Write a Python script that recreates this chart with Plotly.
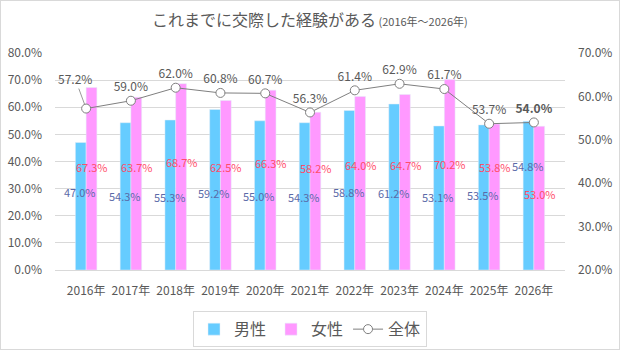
import plotly.graph_objects as go

years = ["2016年", "2017年", "2018年", "2019年", "2020年", "2021年",
         "2022年", "2023年", "2024年", "2025年", "2026年"]
male = [47.0, 54.3, 55.3, 59.2, 55.0, 54.3, 58.8, 61.2, 53.1, 53.5, 54.8]
female = [67.3, 63.7, 68.7, 62.5, 66.3, 58.2, 64.0, 64.7, 70.2, 53.8, 53.0]
total = [57.2, 59.0, 62.0, 60.8, 60.7, 56.3, 61.4, 62.9, 61.7, 53.7, 54.0]

# label placement (left-axis % units) – styling, not data
male_label_at = [28.8, 27.3, 26.9, 28.4, 27.3, 26.9, 28.8, 28.4, 26.9, 27.6, 38.3]
female_label_at = [38.0, 38.0, 39.8, 38.0, 39.4, 37.6, 38.7, 38.7, 39.1, 38.0, 28.0]

BLUE = "#66CCFF"
PINK = "#FF99FF"
MALE_TXT = "#5A6AA8"
FEMALE_TXT = "#FF4D6A"
GRAY = "#595959"
FONT = "Noto Sans CJK JP"

fig = go.Figure()
fig.add_trace(go.Bar(x=years, y=[v / 100 for v in male], name="男性",
                     marker=dict(color=BLUE), offsetgroup="m"))
fig.add_trace(go.Bar(x=years, y=[v / 100 for v in female], name="女性",
                     marker=dict(color=PINK), offsetgroup="f"))

line_text = [""] + [f"{v:.1f}%" for v in total[1:-1]] + [f"<b>{total[-1]:.1f}%</b>"]
fig.add_trace(go.Scatter(x=years, y=[v / 100 for v in total], name="全体",
                         yaxis="y2", mode="lines+markers+text",
                         line=dict(color="#7F7F7F", width=1),
                         marker=dict(symbol="circle", size=9, color="white",
                                     line=dict(color="#7F7F7F", width=1)),
                         text=line_text, textposition="top center",
                         textfont=dict(family=FONT, size=12, color=GRAY),
                         cliponaxis=False))

# first point label with leader line
fig.add_annotation(x=years[0], y=total[0] / 100, yref="y2", xref="x",
                   text=f"{total[0]:.1f}%", showarrow=True, arrowhead=0,
                   arrowwidth=0.8, arrowcolor="#7F7F7F", ax=-11, ay=-30,
                   standoff=4, font=dict(family=FONT, size=12, color=GRAY))

for i, yr in enumerate(years):
    fig.add_annotation(x=yr, y=male_label_at[i] / 100, xref="x", yref="y",
                       text=f"{male[i]:.1f}%", showarrow=False, xshift=-6,
                       font=dict(family=FONT, size=11, color=MALE_TXT))
    fig.add_annotation(x=yr, y=female_label_at[i] / 100, xref="x", yref="y",
                       text=f"{female[i]:.1f}%", showarrow=False, xshift=6,
                       font=dict(family=FONT, size=11, color=FEMALE_TXT))

fig.add_annotation(x=0.5, y=1, xref="paper", yref="paper", yshift=20,
                   text="これまでに交際した経験がある<span style='font-size:11px'> (2016年～2026年)</span>",
                   showarrow=False, font=dict(family=FONT, size=16, color=GRAY),
                   xanchor="center", yanchor="bottom")

fig.update_layout(
    width=620, height=350,
    margin=dict(l=55, r=55, t=53, b=80, autoexpand=False),
    paper_bgcolor="white", plot_bgcolor="white",
    barmode="group", bargap=0.52, bargroupgap=0,
    font=dict(family=FONT, size=12, color=GRAY),
    showlegend=True,
    legend=dict(orientation="h", x=0.5, xanchor="center", y=-0.19, yanchor="top",
                bordercolor="#D9D9D9", borderwidth=1,
                font=dict(family=FONT, size=16, color=GRAY),
                itemwidth=30, tracegroupgap=0),
    xaxis=dict(tickfont=dict(family=FONT, size=12, color=GRAY), showline=True,
               linecolor="#D9D9D9", ticks="", ticklabelstandoff=10, automargin=False),
    yaxis=dict(range=[0, 0.8], dtick=0.1, tickformat=".1%", showgrid=True,
               gridcolor="#D9D9D9", zeroline=False, ticklabelstandoff=12, automargin=False,
               tickfont=dict(family=FONT, size=12, color=GRAY)),
    yaxis2=dict(range=[0.2, 0.7], dtick=0.1, tickformat=".1%", overlaying="y",
                side="right", showgrid=False, zeroline=False, ticklabelstandoff=12,
                automargin=False,
                tickfont=dict(family=FONT, size=12, color=GRAY)),
    shapes=[dict(type="rect", xref="paper", yref="paper", x0=-55/510, x1=1+55/510,
                 y0=-80/217, y1=1+53/217, line=dict(color="#D9D9D9", width=2))],
)

fig.write_html("out.html")
